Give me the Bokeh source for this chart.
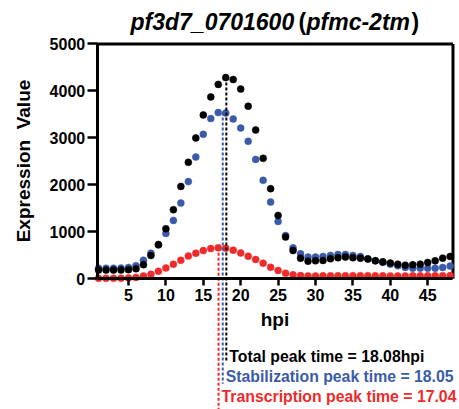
from bokeh.plotting import figure
from bokeh.models import Range1d, LinearAxis, FixedTicker, Label
from bokeh.embed import file_html
from bokeh.resources import INLINE

# ---------------- data ----------------
hours = list(range(1, 49))
total = [185, 185, 185, 188, 195, 215, 300, 497, 730, 1066, 1471, 1968,
         2480, 3000, 3490, 3872, 4140, 4285, 4243, 4040, 3676, 3170, 2565, 1919,
         1350, 890, 603, 440, 376, 384, 390, 426, 448, 462, 448, 440,
         419, 384, 362, 334, 312, 291, 298, 312, 348, 384, 440, 476]
stabilization = [225, 225, 225, 228, 240, 280, 395, 546, 720, 965, 1243, 1612,
                 2070, 2593, 3076, 3411, 3539, 3531, 3403, 3211, 2927, 2543, 2096, 1633,
                 1222, 920, 660, 533, 462, 462, 476, 498, 519, 519, 498, 476,
                 426, 384, 348, 312, 277, 241, 227, 227, 227, 227, 241, 270]
transcription = [10, 10, 10, 12, 18, 30, 60, 95, 160, 230, 310, 395,
                 485, 545, 600, 645, 660, 648, 610, 550, 482, 411, 333, 247,
                 177, 119, 85, 70, 62, 62, 63, 64, 65, 66, 66, 66,
                 65, 64, 63, 62, 62, 62, 63, 64, 65, 66, 67, 68]
x_ticks = [5, 10, 15, 20, 25, 30, 35, 40, 45]
y_ticks = [0, 1000, 2000, 3000, 4000, 5000]
peak_times = [18.08, 18.05, 17.04]          # values quoted in the labels
peak_line_x = [18.08, 17.6, 17.04]          # where the dashed lines are drawn
peak_texts = ["Total peak time = 18.08hpi",
              "Stabilization peak time = 18.05",
              "Transcription peak time = 17.04"]
title_parts = ["pf3d7_0701600", "(", "pfmc-2tm", ")"]

BLACK = "#000000"
BLUE = "#3b5ba8"
RED = "#ee2a2a"
colors = [BLACK, BLUE, RED]
FONT = "Liberation Sans"

# ---------------- layout constants ----------------
X0, X1 = 0.815, 48.38           # plot box in data units
p = figure(width=459, height=409,
           x_range=Range1d(-12.11, 49.25), y_range=Range1d(-2783, 5926),
           x_axis_type=None, y_axis_type=None,
           output_backend="svg", toolbar_location=None, min_border=0)
p.outline_line_color = None
p.background_fill_color = "white"
p.border_fill_color = "white"

xa = LinearAxis(fixed_location=0, bounds=(X0, X1), ticker=FixedTicker(ticks=x_ticks),
                axis_label="hpi")
ya = LinearAxis(fixed_location=X0, bounds=(y_ticks[0], y_ticks[-1]),
                ticker=FixedTicker(ticks=y_ticks), axis_label="Expression\u00a0 Value")
for ax in (xa, ya):
    ax.axis_line_width = 3
    ax.axis_line_color = BLACK
    ax.major_tick_line_width = 2.5
    ax.major_tick_in = 0
    ax.minor_tick_in = 0
    ax.minor_tick_out = 0
    ax.major_label_text_font = FONT
    ax.major_label_text_font_style = "bold"
    ax.major_label_text_font_size = "16px"
    ax.major_label_text_color = BLACK
    ax.axis_label_text_font = FONT
    ax.axis_label_text_font_style = "bold"
    ax.axis_label_text_font_size = "19px"
    ax.axis_label_text_color = BLACK
xa.major_tick_out = 7
xa.major_label_standoff = 3
xa.axis_label_standoff = 5
ya.major_tick_out = 10
ya.major_label_standoff = 2
ya.axis_label_standoff = 13
p.add_layout(xa, "below")
p.add_layout(ya, "left")

# top and right border of the box
p.segment(x0=[X0, X1], y0=[y_ticks[-1], y_ticks[0]], x1=[X1, X1], y1=[y_ticks[-1], y_ticks[-1]],
          line_width=3, line_color=BLACK)

# data points
p.scatter(hours, transcription, size=7, color=RED, line_width=0.5)
p.scatter(hours, stabilization, size=7, color=BLUE, line_width=0.5)
p.scatter(hours, total, size=7, color=BLACK, line_width=0.5)

# dashed peak lines running down to the annotation rows
peak_vals = [max(total), max(stabilization), max(transcription)]
line_ends = [-1746, -2236, -2783]
p.segment(x0=peak_line_x, y0=peak_vals, x1=peak_line_x, y1=line_ends,
          line_color=colors, line_dash="3 2", line_width=2)

row_y = [-1655, -2081, -2507]
for xv, yv, txt, c in zip(peak_line_x, row_y, peak_texts, colors):
    p.add_layout(Label(x=xv, y=yv, x_offset=3, text=txt, text_color=c,
                       text_font=FONT, text_font_style="bold", text_font_size="15.8px",
                       text_baseline="middle"))

# title (italic gene names, upright parentheses)
title_y = 5460
title_x = 5.27
offsets = [0, 168, 176, 281]
styles = ["bold italic", "bold", "bold italic", "bold"]
for txt, off, st in zip(title_parts, offsets, styles):
    p.add_layout(Label(x=title_x, y=title_y, x_offset=off, text=txt, text_color=BLACK,
                       text_font=FONT, text_font_style=st, text_font_size="23px",
                       text_baseline="alphabetic"))

open("out.html", "w").write(file_html(p, INLINE))
